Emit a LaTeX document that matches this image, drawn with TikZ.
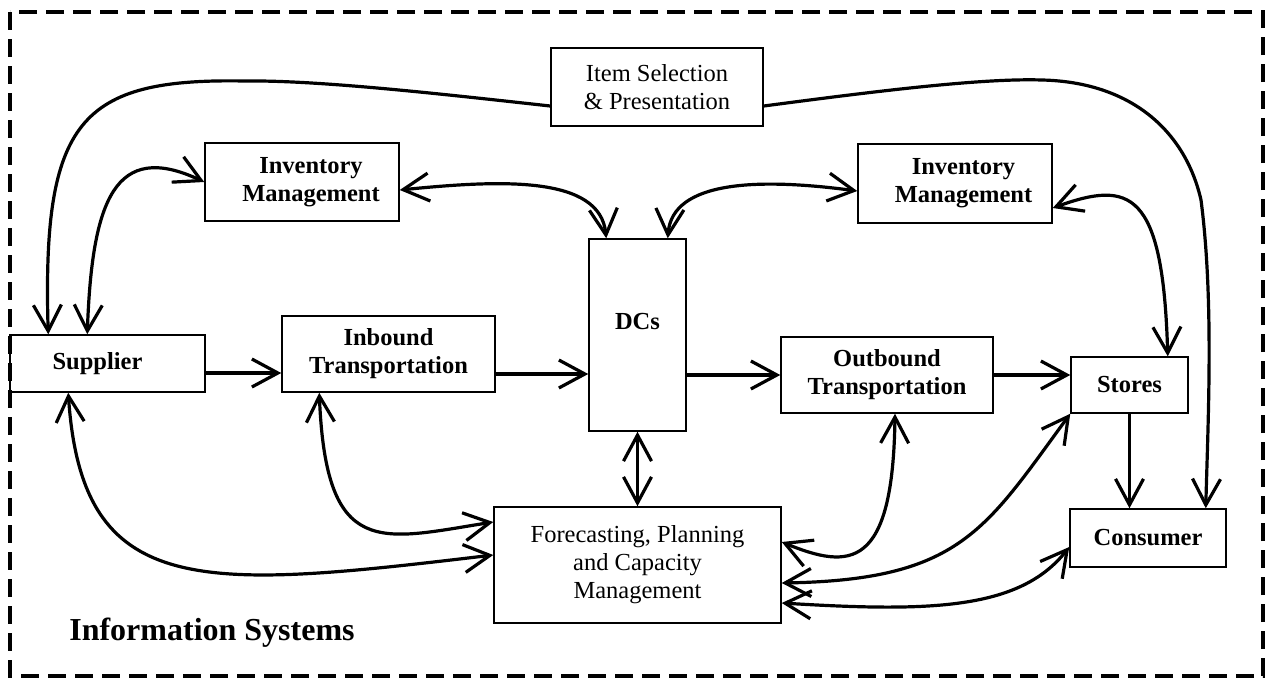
\documentclass[tikz,border=0pt]{standalone}
\usepackage{fontspec}
\setmainfont{Liberation Serif}
\usetikzlibrary{arrows.meta,calc}
\begin{document}
\begin{tikzpicture}[x=1pt,y=-1pt,
  box/.style={draw, line width=1.5pt, inner sep=0pt, font=\fontsize{24.5}{28}\selectfont},
  bbox/.style={box, font=\fontsize{24.5}{28}\selectfont\bfseries},
  tipb/.tip={Straight Barb[length=26pt,width=28pt,line width=3.2pt]},
  arr/.style={line width=3.2pt, -tipb},
  darr/.style={line width=3.2pt, tipb-tipb},
  frame/.style={line width=3.5pt, dash pattern=on 18pt off 9pt}
]
\useasboundingbox (0,0) rectangle (1274,680);
\draw[frame] (10,12) rectangle (1263,676);

\node[box, align=center, minimum width=212, minimum height=78] (item) at (657,87) {Item Selection\\\& Presentation};
\node[bbox, align=center, minimum width=194, minimum height=78] (invL) at (302,182) {\hspace*{18pt}Inventory\\\hspace*{18pt}Management};
\node[bbox, align=center, minimum width=194, minimum height=79] (invR) at (955,183.5) {\hspace*{17pt}Inventory\\\hspace*{17pt}Management};
\node[bbox, minimum width=97, minimum height=192, text depth=28pt] (dcs) at (637.5,335) {DCs};
\node[bbox, minimum width=195, minimum height=57] (sup) at (107.5,363.5) {Supplier\hspace*{20pt}};
\node[bbox, align=center, minimum width=213, minimum height=76] (inb) at (388.5,354) {Inbound\\Transportation};
\node[bbox, align=center, minimum width=212, minimum height=76] (outb) at (887,375) {Outbound\\Transportation};
\node[bbox, minimum width=117, minimum height=56] (sto) at (1129.5,385) {Stores};
\node[bbox, minimum width=156, minimum height=58] (con) at (1148,538) {Consumer};
\node[box, align=center, minimum width=287, minimum height=116] (fc) at (637.5,565) {Forecasting, Planning\\and Capacity\\Management};
\node[font=\fontsize{32}{36}\selectfont\bfseries, anchor=base] (is) at (212,640) {Information Systems};

% top curves
\draw[arr] ($(item.west)+(0,19)$) .. controls (450,95) and (320,80) .. (245,81) .. controls (80,78) and (42,120) .. ($(sup.north west)+(39,0)$);
\draw[darr] ($(sup.north west)+(78,0)$) .. controls (92,200) and (115,140) .. (invL.west);
\draw[darr] ($(invL.east)+(0,8)$) .. controls (500,180) and (600,175) .. ($(dcs.north west)+(18,0)$);
\draw[darr] ($(dcs.north east)+(-19,0)$) .. controls (672,180) and (760,178) .. ($(invR.west)+(0,7.5)$);
\draw[darr] ($(invR.east)+(0,24.5)$) .. controls (1130,180) and (1163,190) .. ($(sto.north east)+(-21,0)$);
\draw[arr] ($(item.east)+(0,19)$) .. controls (870,92) and (980,78) .. (1042,80) .. controls (1130,82) and (1185,130) .. (1201,200) .. controls (1214,300) and (1208,420) .. ($(con.north east)+(-21,0)$);

% straight flow
\draw[arr] ($(sup.east)+(0,9.5)$) coordinate (a1) -- (a1 -| inb.west);
\draw[arr] ($(inb.east)+(0,20)$) coordinate (a2) -- (a2 -| dcs.west);
\draw[arr] (dcs.east |- outb.west) -- (outb.west);
\draw[arr] (outb.east) -- (outb.east -| sto.west);
\draw[arr] (sto.south) -- (sto.south |- con.north);
\draw[darr] (dcs.south) -- (dcs.south |- fc.north);

% curves to forecasting
\draw[darr] ($(inb.south west)+(38,0)$) .. controls (326,560) and (380,540) .. ($(fc.west)+(0,-43)$);
\draw[darr] ($(sup.south west)+(59,0)$) .. controls (82,600) and (200,590) .. ($(fc.west)+(0,-10)$);
\draw[darr] ($(outb.south)+(8,0)$) .. controls (893,570) and (850,570) .. ($(fc.east)+(0,-23)$);
\draw[darr] (sto.south west) .. controls (985,530) and (960,580) .. ($(fc.east)+(0,18)$);
\draw[darr] ($(con.west)+(0,9)$) .. controls (1020,610) and (930,612) .. ($(fc.east)+(0,38)$);
\end{tikzpicture}
\end{document}
